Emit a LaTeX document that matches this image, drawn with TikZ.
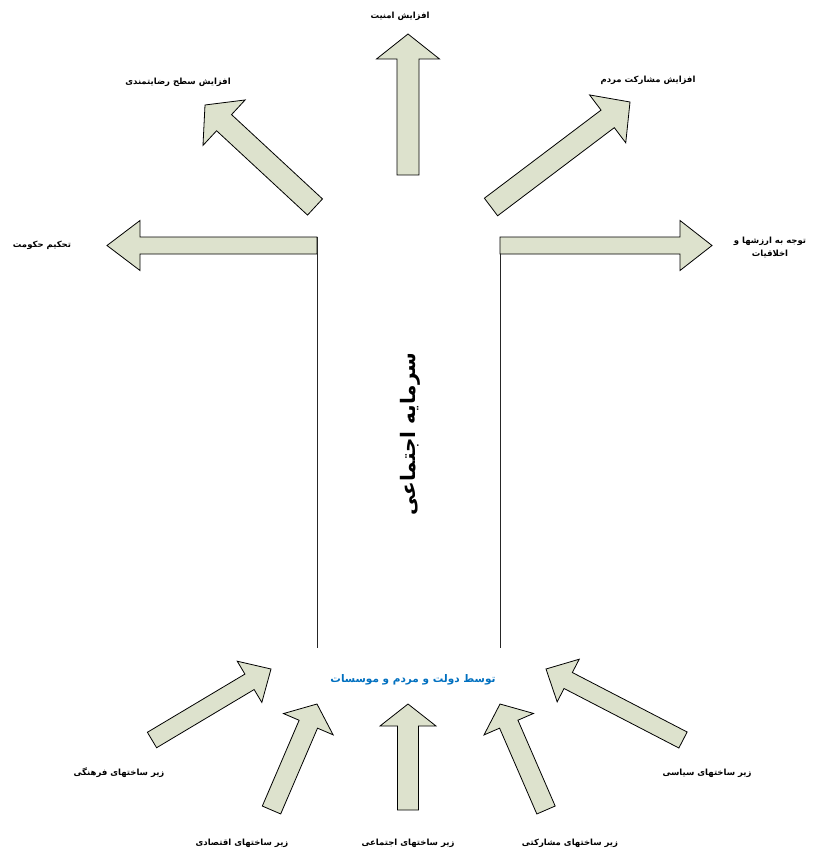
\documentclass[tikz,border=0pt]{standalone}
\usepackage{fontspec}
\setmainfont{DejaVu Sans}
\newfontfamily\fa[Script=Arabic]{DejaVu Sans}
\TeXXeTstate=1
\usetikzlibrary{calc}
\definecolor{arrowfill}{RGB}{221,226,205}
\definecolor{midblue}{RGB}{0,112,192}
\tikzset{
  blockarr/.style={draw=black, fill=arrowfill, line width=0.8pt, line join=miter},
  lbl/.style={font=\fa\bfseries\fontsize{8.5}{13}\selectfont, text=black, inner sep=1pt, align=center},
  bluelbl/.style={lbl, text=midblue, font=\fa\bfseries\fontsize{10.5}{12}\selectfont},
  bigtitle/.style={font=\fa\bfseries\fontsize{20}{24}\selectfont, rotate=90, inner sep=1pt},
  stem/.style={draw=black!85, line width=0.8pt}
}
% #1 tail, #2 tip, #3 shaft half width, #4 head half width, #5 head length
\newcommand{\blockarrow}[5]{%
  \coordinate (ba-h) at ($(#2)!#5!(#1)$);
  \draw[blockarr] ($(#1)!#3!90:(#2)$) -- ($(ba-h)!#3!90:(#2)$) -- ($(ba-h)!#4!90:(#2)$) -- (#2)
    -- ($(ba-h)!#4!-90:(#2)$) -- ($(ba-h)!#3!-90:(#2)$) -- ($(#1)!#3!-90:(#2)$) -- cycle;
}
\begin{document}
\begin{tikzpicture}[x=1pt, y=-1pt]
\useasboundingbox (0,0) rectangle (813,853);
\fill[white] (0,0) rectangle (813,853);

% coordinates of arrows
\coordinate (topTail) at (408,175);   \coordinate (topTip) at (408,34);
\coordinate (tlTail) at (315,207);    \coordinate (tlTip) at (205,105);
\coordinate (trTail) at (491,207);    \coordinate (trTip) at (630,102);
\coordinate (lTail) at (317,245.5);   \coordinate (lTip) at (107,245.5);
\coordinate (rTail) at (500,245.5);   \coordinate (rTip) at (712,245.5);
\coordinate (bcTail) at (408,810);    \coordinate (bcTip) at (408,704);
\coordinate (blTail) at (271.5,810);  \coordinate (blTip) at (317,704);
\coordinate (brTail) at (546,810);    \coordinate (brTip) at (500,704);
\coordinate (flTail) at (152,740);    \coordinate (flTip) at (271,669);
\coordinate (frTail) at (683,740);    \coordinate (frTip) at (546,669);
\coordinate (lStemTop) at (317,237);  \coordinate (lStemBot) at (317,648);
\coordinate (rStemTop) at (500,237);  \coordinate (rStemBot) at (500,648);

% stems
\draw[stem] (lStemTop) -- (lStemBot);
\draw[stem] (rStemTop) -- (rStemBot);

% upper arrows
\blockarrow{topTail}{topTip}{11pt}{31.5pt}{25pt}
\blockarrow{tlTail}{tlTip}{11pt}{31pt}{26pt}
\blockarrow{trTail}{trTip}{11pt}{30pt}{28pt}
\blockarrow{lTail}{lTip}{8.5pt}{25pt}{33pt}
\blockarrow{rTail}{rTip}{8.5pt}{25pt}{32pt}

% lower arrows
\blockarrow{bcTail}{bcTip}{10.5pt}{28pt}{22pt}
\blockarrow{blTail}{blTip}{10pt}{27pt}{22pt}
\blockarrow{brTail}{brTip}{10pt}{27pt}{22pt}
\blockarrow{flTail}{flTip}{9pt}{24pt}{25pt}
\blockarrow{frTail}{frTip}{9pt}{24pt}{25pt}

% labels
\node[lbl] (secur) at (400,16) {\beginR افزایش امنیت\endR};
\node[lbl] (satis) at (178,82) {\beginR افزایش سطح رضایتمندی\endR};
\node[lbl] (partic) at (648,80) {\beginR افزایش مشارکت مردم\endR};
\node[lbl] (gov) at (42,245) {\beginR تحکیم حکومت\endR};
\node[lbl] (values) at (770,247) {\beginR توجه به ارزشها و\endR\\\beginR اخلاقیات\endR};
\node[bigtitle] (title) at (410,434) {\beginR سرمایه اجتماعی\endR};
\node[bluelbl] (by) at (413,680) {\beginR توسط دولت و مردم و موسسات\endR};
\node[lbl] (cult) at (119,773) {\beginR زیر ساختهای فرهنگی\endR};
\node[lbl] (polit) at (707,773) {\beginR زیر ساختهای سیاسی\endR};
\node[lbl] (econ) at (242,843) {\beginR زیر ساختهای اقتصادی\endR};
\node[lbl] (soc) at (408,843) {\beginR زیر ساختهای اجتماعی\endR};
\node[lbl] (part) at (570,843) {\beginR زیر ساختهای مشارکتی\endR};
\end{tikzpicture}
\end{document}
